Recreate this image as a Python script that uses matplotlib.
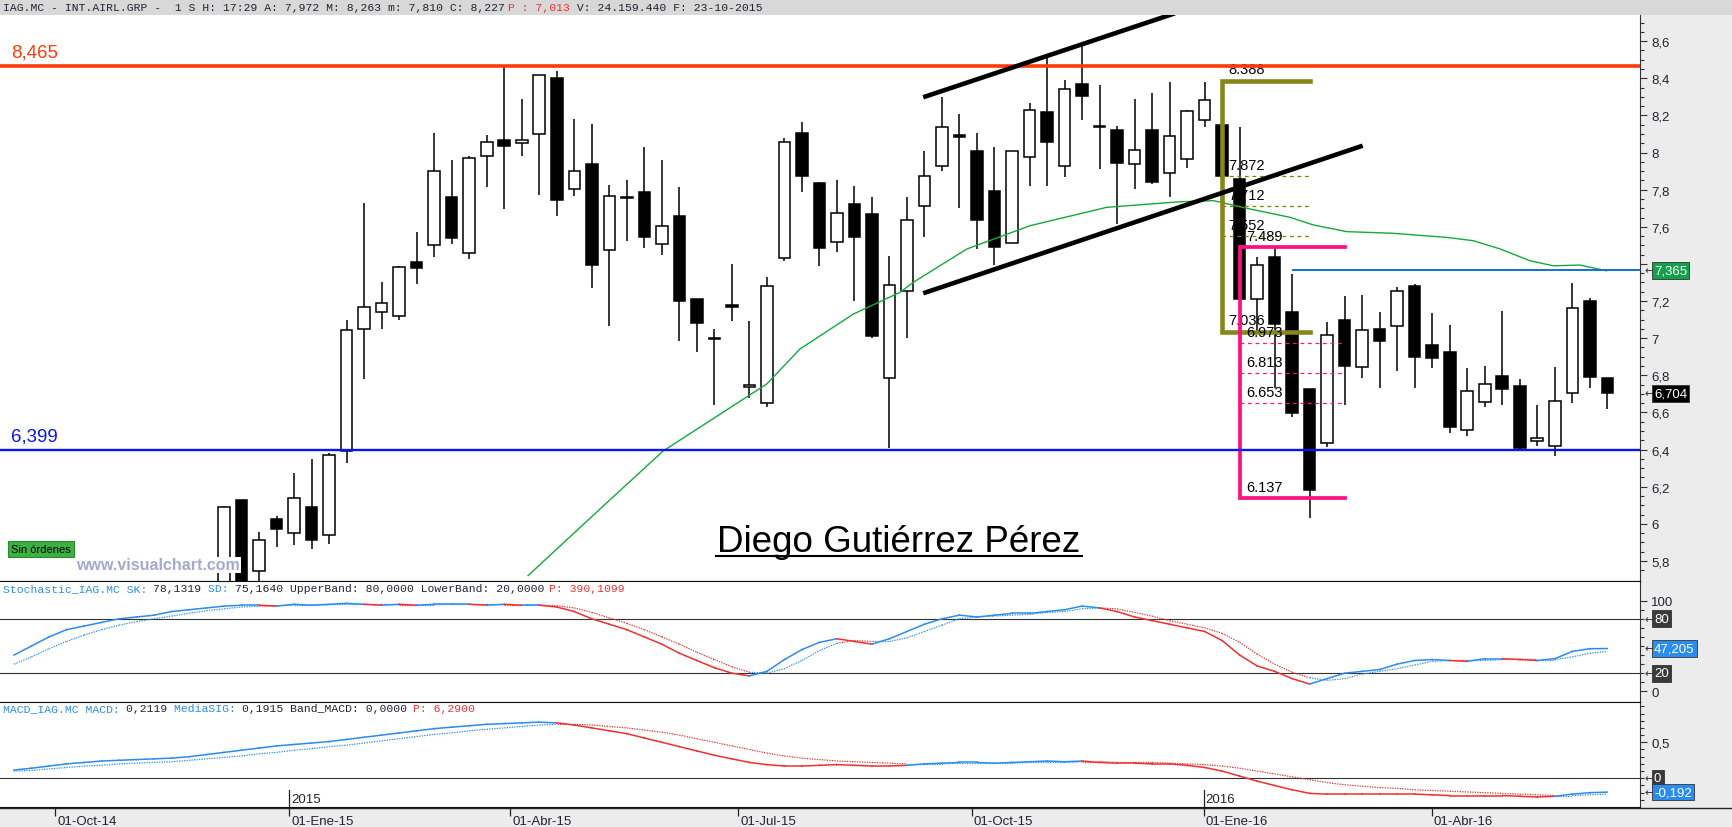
import matplotlib
matplotlib.use('Agg')
import matplotlib.pyplot as plt
import matplotlib.transforms as mtransforms
from matplotlib.lines import Line2D
from matplotlib.patches import Rectangle

# ---------------- data (weekly candles, IAG.MC) ----------------
opens = [5.60, 6.13, 5.744, 6.026, 5.949, 6.089, 5.941, 6.394, 7.05, 7.14,
         7.12, 7.412, 7.502, 7.763, 7.459, 7.982, 8.065, 8.052, 8.101, 8.402,
         7.801, 7.937, 7.477, 7.762, 7.786, 7.507, 7.657, 7.213, 7.000, 7.180,
         6.735, 6.650, 7.432, 8.105, 7.835, 7.520, 7.721, 7.667, 6.783, 7.255,
         7.714, 7.925, 8.094, 8.011, 7.795, 7.515, 7.977, 8.220, 7.930, 8.367,
         8.138, 8.120, 7.937, 8.120, 7.890, 7.966, 8.173, 8.150, 7.855, 7.210,
         7.439, 7.142, 6.727, 6.435, 7.099, 6.845, 7.051, 7.066, 7.282, 6.963,
         6.928, 6.506, 6.656, 6.797, 6.743, 6.446, 6.419, 6.704, 7.198, 6.786]
highs = [6.095, 6.13, 5.954, 6.041, 6.274, 6.350, 6.382, 7.10, 7.73, 7.30,
         7.39, 7.570, 8.105, 7.959, 7.980, 8.094, 8.461, 8.287, 8.420, 8.440,
         8.180, 8.153, 7.824, 7.851, 8.029, 7.959, 7.813, 7.213, 7.052, 7.397,
         7.090, 7.327, 8.078, 8.164, 7.840, 7.851, 7.819, 7.759, 7.443, 7.758,
         8.011, 8.297, 8.207, 8.103, 8.029, 8.006, 8.267, 8.524, 8.389, 8.587,
         8.362, 8.143, 8.287, 8.319, 8.379, 8.231, 8.379, 8.150, 8.137, 7.440,
         7.484, 7.345, 6.727, 7.088, 7.228, 7.235, 7.142, 7.277, 7.291, 7.138,
         7.070, 6.841, 6.852, 7.149, 6.782, 6.642, 6.846, 7.296, 7.214, 6.786]
lows = [5.55, 5.62, 5.66, 5.873, 5.884, 5.865, 5.891, 6.33, 6.78, 7.05,
        7.10, 7.291, 7.435, 7.507, 7.426, 7.813, 7.696, 7.981, 7.774, 7.657,
        7.766, 7.270, 7.064, 7.523, 7.486, 7.448, 6.985, 6.924, 6.638, 7.091,
        6.676, 6.632, 7.414, 7.786, 7.387, 7.462, 7.198, 6.999, 6.407, 7.000,
        7.546, 7.898, 7.701, 7.480, 7.392, 7.515, 7.820, 7.820, 7.871, 8.173,
        7.909, 7.614, 7.804, 7.833, 7.761, 7.918, 8.136, 7.876, 7.210, 7.040,
        6.733, 6.575, 6.031, 6.415, 6.638, 6.784, 6.733, 6.823, 6.732, 6.837,
        6.487, 6.473, 6.629, 6.638, 6.395, 6.417, 6.365, 6.649, 6.733, 6.616]
closes = [6.089, 5.68, 5.911, 5.974, 6.137, 5.914, 6.369, 7.044, 7.17, 7.19,
          7.385, 7.378, 7.898, 7.538, 7.970, 8.055, 8.036, 8.065, 8.416, 7.745,
          7.903, 7.394, 7.768, 7.754, 7.543, 7.606, 7.199, 7.080, 6.996, 7.167,
          6.748, 7.282, 8.055, 7.874, 7.486, 7.673, 7.543, 7.010, 7.287, 7.638,
          7.876, 8.136, 8.082, 7.639, 7.493, 8.006, 8.231, 8.058, 8.340, 8.303,
          8.138, 7.942, 8.015, 7.843, 8.088, 8.225, 8.281, 7.876, 7.210, 7.396,
          7.079, 6.595, 6.184, 7.017, 6.848, 7.044, 6.985, 7.255, 6.899, 6.891,
          6.524, 6.716, 6.754, 6.724, 6.409, 6.462, 6.662, 7.165, 6.790, 6.704]

# moving average (green), read at bar positions
ma_pos = [17.36, 21.47, 25.07, 30.99, 32.89, 35.94, 38.60, 39.36, 42.41, 46.03,
          50.41, 54.59, 56.50, 58.40, 60.88, 62.21, 64.12, 66.78, 69.83, 71.35,
          72.87, 74.59, 75.92, 77.44, 78.96]
ma_vals = [5.721, 6.080, 6.392, 6.753, 6.942, 7.130, 7.247, 7.301, 7.480, 7.606,
           7.705, 7.735, 7.741, 7.700, 7.651, 7.610, 7.574, 7.565, 7.543, 7.525,
           7.481, 7.417, 7.390, 7.394, 7.363]

resistance = 8.465
support = 6.399
ma_last = 7.365
last_close = 6.704

# channel (bar index, price)
chan_up = [(39.93, 8.298), (54.3, 8.75)]
chan_low = [(39.93, 7.242), (65.03, 8.037)]

# fibonacci retracements
fib1_x = (57.0, 62.0)
fib1_levels = [8.388, 7.872, 7.712, 7.552, 7.036]
fib2_x = (58.0, 64.0)
fib2_levels = [7.489, 6.973, 6.813, 6.653, 6.137]

# indicators start 12 bars before the first visible candle
ind_start = -12
sto_sk = [40, 50, 60, 68, 72, 76, 80, 82, 84, 88, 90, 92, 94, 95, 95, 94, 96, 95, 96, 97,
          96, 95, 96, 95, 96, 96, 96, 95, 96, 95, 95, 93, 88, 80, 74, 68, 60, 52, 42, 34,
          26, 20, 17, 22, 35, 46, 54, 58, 55, 52, 58, 66, 74, 80, 84, 82, 84, 86, 86, 88,
          90, 94, 92, 88, 82, 78, 74, 70, 66, 56, 40, 28, 22, 14, 8, 14, 20, 22, 24, 30,
          34, 35, 34, 33, 36, 36, 35, 34, 36, 44, 47, 47.205]
sto_sd = [30, 38, 47, 55, 62, 68, 73, 77, 80, 83, 86, 89, 91, 93, 94, 94.5, 95, 95, 95.5, 96,
          96, 96, 95.5, 95.5, 95.5, 96, 96, 96, 95.5, 95.5, 95, 94.5, 92, 87, 81, 75, 68, 60, 52, 43,
          35, 27, 21, 20, 25, 34, 45, 53, 56, 55, 55, 59, 66, 73, 80, 82, 83, 84, 85, 87,
          88, 91, 92, 91, 87, 83, 78, 74, 70, 64, 54, 41, 30, 21, 15, 12, 14, 19, 22, 25,
          29, 33, 34, 34, 34, 35, 35.5, 35, 35, 38, 42, 44]
macd = [0.115, 0.14, 0.17, 0.20, 0.22, 0.24, 0.25, 0.26, 0.27, 0.28, 0.30, 0.33,
        0.36, 0.39, 0.42, 0.45, 0.47, 0.49, 0.51, 0.54, 0.57, 0.60, 0.63, 0.66, 0.69, 0.71,
        0.73, 0.75, 0.76, 0.77, 0.78, 0.77, 0.74, 0.70, 0.66, 0.62, 0.56, 0.50, 0.44, 0.38,
        0.32, 0.27, 0.22, 0.19, 0.17, 0.17, 0.18, 0.19, 0.18, 0.17, 0.17, 0.18, 0.20, 0.21,
        0.22, 0.22, 0.21, 0.22, 0.23, 0.24, 0.23, 0.24, 0.22, 0.21, 0.21, 0.20, 0.20, 0.18,
        0.15, 0.10, 0.03, -0.04, -0.10, -0.16, -0.21, -0.22, -0.22, -0.22, -0.22, -0.22,
        -0.22, -0.23, -0.24, -0.24, -0.24, -0.24, -0.25, -0.26, -0.25, -0.22, -0.20, -0.192]
macd_sig = [0.10, 0.11, 0.13, 0.15, 0.17, 0.18, 0.20, 0.21, 0.22, 0.23, 0.25, 0.27,
            0.29, 0.31, 0.34, 0.36, 0.39, 0.41, 0.44, 0.46, 0.49, 0.52, 0.55, 0.58, 0.61, 0.63,
            0.66, 0.68, 0.70, 0.72, 0.74, 0.75, 0.75, 0.74, 0.72, 0.70, 0.67, 0.64, 0.60, 0.55,
            0.50, 0.45, 0.40, 0.35, 0.31, 0.28, 0.26, 0.24, 0.23, 0.22, 0.21, 0.20, 0.20, 0.20,
            0.21, 0.21, 0.21, 0.21, 0.22, 0.22, 0.22, 0.23, 0.23, 0.22, 0.22, 0.22, 0.21, 0.20,
            0.19, 0.17, 0.14, 0.10, 0.06, 0.02, -0.02, -0.06, -0.09, -0.11, -0.13, -0.14,
            -0.16, -0.17, -0.18, -0.19, -0.20, -0.21, -0.22, -0.23, -0.24, -0.24, -0.23, -0.22]

date_pos = [-9.66, 3.73, 16.34, 29.37, 42.69, 55.94, 68.96]
date_labels = ['01-Oct-14', '01-Ene-15', '01-Abr-15', '01-Jul-15', '01-Oct-15', '01-Ene-16', '01-Abr-16']
year_pos = [3.73, 55.94]
year_labels = ['2015', '2016']

# ---------------- layout helpers ----------------
W, H = 1732, 828
X0, DX = 224.1, 17.509          # pixel of bar 0, pixels per bar
XLIM = (-X0 / DX, (1640 - X0) / DX)


def box(x0, y0, x1, y1):
    return [x0 / W, 1 - y1 / H, (x1 - x0) / W, (y1 - y0) / H]


def fx(x):
    return x / W


def fy(y):
    return 1 - y / H


def bx(i):
    return X0 + DX * i


def comma(v, nd=1):
    if abs(v - round(v)) < 1e-9:
        return str(int(round(v)))
    return f'{v:.{nd}f}'.replace('.', ',')


plt.rcParams['font.family'] = ['Liberation Sans', 'DejaVu Sans']
fig = plt.figure(figsize=(W / 100, H / 100), dpi=100)
fig.patch.set_facecolor('#ececec')

BLUE = '#2b8cf0'
RED = '#f03030'
TXT = '#222233'


def mono_line(x0, y, parts, size=8.2, cw=6.83):
    pos = x0
    for txt, col in parts:
        fig.text(fx(pos), fy(y), txt, color=col, fontsize=size,
                 family='Liberation Mono', va='center', ha='left')
        pos += len(txt) * cw


def right_box(ax, val, label, fc, tc='white', arrow=True):
    tr = mtransforms.blended_transform_factory(ax.transAxes, ax.transData)
    if arrow:
        ax.text(1.003, val, '\u2190', transform=tr, fontsize=8, color='#333333',
                va='center', ha='left', family='DejaVu Sans', clip_on=False)
    ax.text(1.0085, val, label, transform=tr, fontsize=9.5, color=tc, va='center', ha='left',
            clip_on=False, zorder=10,
            bbox=dict(boxstyle='square,pad=0.18', fc=fc, ec='#333333', lw=0.6))


def style_right(ax):
    ax.set_facecolor('white')
    ax.yaxis.tick_right()
    for s in ['left', 'top']:
        ax.spines[s].set_visible(False)
    ax.spines['right'].set_color('#333333')
    ax.spines['bottom'].set_color('#111111')
    ax.tick_params(axis='y', which='major', direction='out', length=5, width=0.8,
                   colors='#333333', labelsize=9.5, pad=3, labelcolor=TXT)
    ax.tick_params(axis='y', which='minor', direction='out', length=3, width=0.8, colors='#333333')
    ax.set_xticks([])
    ax.set_xlim(*XLIM)


# header bar
fig.patches.append(Rectangle((0, fy(16)), 1, 16 / H, transform=fig.transFigure,
                             facecolor='#d8d8d8', edgecolor='none', zorder=-1))
mono_line(3, 8, [('IAG.MC - INT.AIRL.GRP -  1 S H: 17:29 A: 7,972 M: 8,263 m: 7,810 C: 8,227 ', TXT),
                 ('P : 7,013', RED), (' V: 24.159.440 F: 23-10-2015', TXT)])

# ---------------- main price panel ----------------
ax = fig.add_axes(box(0, 16, 1640, 582))
style_right(ax)
ax.set_ylim(5.692, 8.741)
ticks = [5.8 + 0.2 * k for k in range(15)]
ax.set_yticks(ticks)
ax.set_yticks([5.75 + 0.05 * k for k in range(60)], minor=True)
# the 7,4 label sits under the MA value box, as in the original
ax.set_yticklabels(['' if abs(t - 7.4) < 1e-6 else comma(t) for t in ticks])

xs = list(range(len(opens)))
bottoms = [min(o, c) for o, c in zip(opens, closes)]
heights = [max(abs(c - o), 0.006) for o, c in zip(opens, closes)]
colors = ['white' if c > o else 'black' for o, c in zip(opens, closes)]
ax.vlines(xs, lows, highs, color='black', lw=1.1, zorder=2)
ax.bar(xs, heights, bottom=bottoms, width=0.66, color=colors, edgecolor='black',
       linewidth=1.1, zorder=3)

ax.plot(ma_pos, ma_vals, color='#16a83c', lw=1.0, zorder=4)

lvl_tr = mtransforms.blended_transform_factory(ax.transAxes, ax.transData)
ax.axhline(resistance, color='#ff3a0a', lw=2.6, zorder=6)
ax.axhline(support, color='#0a14f0', lw=1.7, zorder=6)
ax.text(0.0065, resistance + 0.03, comma(resistance, 3), transform=lvl_tr,
        color='#ff3a0a', fontsize=13.5, va='bottom', ha='left')
ax.text(0.0065, support + 0.03, comma(support, 3), transform=lvl_tr,
        color='#0a14f0', fontsize=13.5, va='bottom', ha='left')

# channel
for seg in (chan_up, chan_low):
    ax.plot([seg[0][0], seg[1][0]], [seg[0][1], seg[1][1]], color='black', lw=3.3,
            solid_capstyle='butt', zorder=7)

# blue level from MA
ax.plot([61.03, XLIM[1]], [ma_last, ma_last], color='#1070d0', lw=1.4, zorder=5)

# fibonacci 1 (olive)
OL = '#7f7f00'
ax.plot([fib1_x[1], fib1_x[0], fib1_x[0], fib1_x[1]],
        [fib1_levels[0], fib1_levels[0], fib1_levels[-1], fib1_levels[-1]],
        color='#86861a', lw=3.3, zorder=5, solid_joinstyle='miter')
for lv in fib1_levels[1:-1]:
    ax.plot(fib1_x, [lv, lv], color=OL, lw=0.9, ls=(0, (3, 3)), zorder=4)
for lv in fib1_levels:
    ax.text(fib1_x[0] + 0.35, lv + 0.022, f'{lv:.3f}', fontsize=10.5, color='black',
            va='bottom', ha='left', zorder=5)

# fibonacci 2 (pink)
PK = '#ff1080'
ax.plot([fib2_x[1], fib2_x[0], fib2_x[0], fib2_x[1]],
        [fib2_levels[0], fib2_levels[0], fib2_levels[-1], fib2_levels[-1]],
        color=PK, lw=2.7, zorder=5, solid_joinstyle='miter')
for lv in fib2_levels[1:-1]:
    ax.plot(fib2_x, [lv, lv], color=PK, lw=0.9, ls=(0, (3, 3)), zorder=4)
for lv in fib2_levels:
    ax.text(fib2_x[0] + 0.35, lv + 0.022, f'{lv:.3f}', fontsize=10.5, color='black',
            va='bottom', ha='left', zorder=5)

right_box(ax, ma_last, comma(ma_last, 3), '#13a04a')
right_box(ax, last_close, comma(last_close, 3), 'black')

# author + watermark + order box
fig.text(fx(899), fy(552), 'Diego Gutiérrez Pérez', fontsize=26.5, color='black',
         ha='center', va='baseline')
fig.add_artist(Line2D([fx(716), fx(1082)], [fy(557), fy(557)], color='black', lw=1.5,
                      transform=fig.transFigure))
fig.text(fx(11), fy(550), 'Sin órdenes', fontsize=8, color='black', ha='left', va='center',
         bbox=dict(boxstyle='square,pad=0.3', fc='#3cb043', ec='#2a8a30', lw=0.8))
fig.text(fx(76), fy(566), 'www.visualchart.com', fontsize=11.5, fontweight='bold',
         color='#a3a9d0', ha='left', va='center',
         bbox=dict(boxstyle='square,pad=0.05', fc='white', ec='none'))

# ---------------- stochastic panel ----------------
ax2 = fig.add_axes(box(0, 582, 1640, 703))
style_right(ax2)
ax2.spines['top'].set_visible(True)
ax2.spines['top'].set_color('#111111')
ax2.set_ylim(-11.8, 121.7)
ax2.set_yticks([0, 100])
ax2.set_yticklabels(['0', '100'])
ax2.set_yticks(list(range(0, 101, 10)), minor=True)
ax2.axhline(80, color='#333333', lw=0.8)
ax2.axhline(20, color='#333333', lw=0.8)

ind_x = [ind_start + k for k in range(len(sto_sk))]


def two_color(axx, xv, main, sig):
    for k in range(len(xv) - 1):
        col = BLUE if main[k + 1] >= sig[k + 1] else RED
        axx.plot(xv[k:k + 2], sig[k:k + 2], color=col, lw=0.9, ls=(0, (1, 1)))
        axx.plot(xv[k:k + 2], main[k:k + 2], color=col, lw=1.1)


two_color(ax2, ind_x, sto_sk, sto_sd)
right_box(ax2, 80, '80', '#3a3a3a')
right_box(ax2, 20, '20', '#3a3a3a')
right_box(ax2, sto_sk[-1], comma(sto_sk[-1], 3), BLUE)
mono_line(3, 589, [('Stochastic_IAG.MC SK: ', BLUE), ('78,1319 ', TXT), ('SD: ', BLUE),
                   ('75,1640 UpperBand: 80,0000 LowerBand: 20,0000 ', TXT), ('P: 390,1099', RED)])

# ---------------- MACD panel ----------------
ax3 = fig.add_axes(box(0, 703, 1640, 808))
style_right(ax3)
ax3.spines['top'].set_visible(True)
ax3.spines['top'].set_color('#111111')
ax3.set_ylim(-0.399, 1.06)
ax3.set_yticks([0.5])
ax3.set_yticklabels(['0,5'])
ax3.set_yticks([-0.3, -0.2, -0.1, 0, 0.1, 0.2, 0.3, 0.4, 0.5, 0.6, 0.7, 0.8, 0.9, 1.0], minor=True)
ax3.axhline(0, color='#333333', lw=0.8)
two_color(ax3, ind_x, macd, macd_sig)
right_box(ax3, 0, '0', '#3a3a3a')
right_box(ax3, macd[-1], comma(macd[-1], 3), BLUE)
mono_line(3, 709, [('MACD_IAG.MC MACD: ', BLUE), ('0,2119 ', TXT), ('MediaSIG: ', BLUE),
                   ('0,1915 Band_MACD: 0,0000 ', TXT), ('P: 6,2900', RED)])

for p, lab in zip(year_pos, year_labels):
    ax3.plot([p, p], [-0.399, -0.399 + 17 / 72], color='#222222', lw=0.9, clip_on=False)
    fig.text(fx(bx(p) + 2), fy(800), lab, fontsize=9.5, color=TXT, ha='left', va='center')

# ---------------- date strip ----------------
ax4 = fig.add_axes(box(0, 808, 1640, 828))
ax4.set_facecolor('#ececec')
ax4.set_xlim(*XLIM)
ax4.set_ylim(0, 1)
ax4.axis('off')
ax4.vlines(date_pos, 0.55, 1.0, color='#222222', lw=0.9)
for p, lab in zip(date_pos, date_labels):
    ax4.text(p + 0.12, 0.32, lab, fontsize=9.5, color=TXT, ha='left', va='center')
fig.add_artist(Line2D([0, 1], [fy(808.5), fy(808.5)], color='#222222', lw=1.0,
                      transform=fig.transFigure))

fig.savefig('out.png', dpi=100, facecolor=fig.get_facecolor())
